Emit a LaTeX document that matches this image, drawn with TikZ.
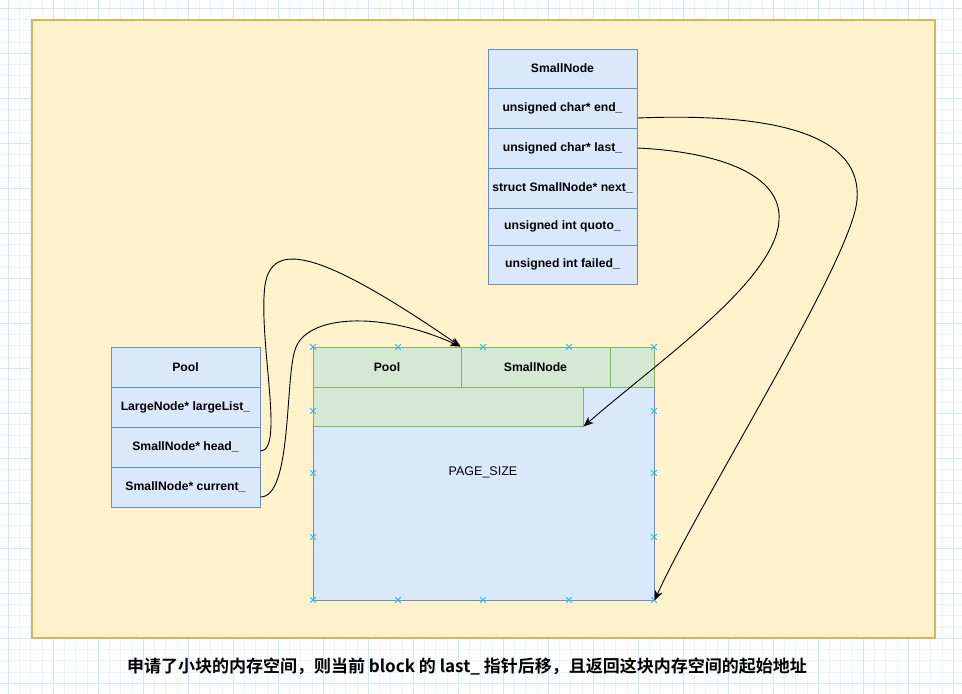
\documentclass[tikz,border=0pt]{standalone}
\usepackage{fontspec}
\setmainfont{Liberation Sans}
\newfontfamily\cjkfont[BoldFont={Noto Sans CJK SC Bold}]{Noto Sans CJK SC}
\usetikzlibrary{arrows.meta}
\definecolor{gridminor}{RGB}{236,243,252}
\definecolor{gridmajor}{RGB}{214,229,249}
\definecolor{ybg}{RGB}{255,242,204}
\definecolor{ystroke}{RGB}{214,182,86}
\definecolor{bfill}{RGB}{218,232,252}
\definecolor{bstroke}{RGB}{108,142,191}
\definecolor{gfill}{RGB}{213,232,212}
\definecolor{gstroke}{RGB}{130,179,102}
\definecolor{xcol}{RGB}{41,182,242}
\tikzset{
  cellb/.style={draw=bstroke, fill=bfill, line width=1pt, inner sep=0pt, minimum width=149pt, font=\bfseries\fontsize{12.2}{14}\selectfont},
  cellg/.style={draw=gstroke, fill=gfill, line width=1pt, inner sep=0pt, font=\bfseries\fontsize{12.2}{14}\selectfont},
  link/.style={draw=black, line width=0.9pt, -{Stealth[length=10pt,width=8pt,inset=3pt]}},
  xmarkline/.style={draw=xcol, line width=1pt},
}
\begin{document}
\begin{tikzpicture}[x=1pt,y=-1pt]
\useasboundingbox (0,0) rectangle (962,694);
\fill[white] (0,0) rectangle (962,694);
% grid
\foreach \i in {-1,...,86} {
  \draw[gridminor, line width=0.8pt] ({8.33+11.25*\i},0) -- ({8.33+11.25*\i},694);
}
\foreach \i in {-1,...,62} {
  \draw[gridminor, line width=0.8pt] (0,{8.33+11.25*\i}) -- (962,{8.33+11.25*\i});
}
\foreach \i in {0,...,21} {
  \draw[gridmajor, line width=1pt] ({8.33+45*\i},0) -- ({8.33+45*\i},694);
}
\foreach \i in {0,...,15} {
  \draw[gridmajor, line width=1pt] (0,{8.33+45*\i}) -- (962,{8.33+45*\i});
}
% container
\node[draw=ystroke, fill=ybg, line width=1.3pt, minimum width=903pt, minimum height=618pt, inner sep=0pt] (bg) at (483.5,329) {};

% SmallNode table
\node[cellb, minimum height=39pt] (sn0) at (562.5,68.5) {SmallNode};
\node[cellb, minimum height=40pt] (sn1) at (562.5,108) {unsigned char* end\_};
\node[cellb, minimum height=40pt] (sn2) at (562.5,148) {unsigned char* last\_};
\node[cellb, minimum height=40pt] (sn3) at (562.5,188) {struct SmallNode* next\_};
\node[cellb, minimum height=37pt] (sn4) at (562.5,226.5) {unsigned int quoto\_};
\node[cellb, minimum height=39pt] (sn5) at (562.5,264.5) {unsigned int failed\_};

% Pool table
\node[cellb, minimum height=40pt] (p0) at (185.5,367) {Pool};
\node[cellb, minimum height=40pt] (p1) at (185.5,407) {LargeNode* largeList\_};
\node[cellb, minimum height=40pt] (p2) at (185.5,447) {SmallNode* head\_};
\node[cellb, minimum height=40pt] (p3) at (185.5,487) {SmallNode* current\_};

% page
\node[draw=bstroke, fill=bfill, line width=1pt, minimum width=341pt, minimum height=253pt, inner sep=0pt] (page) at (483.5,473.5) {};
\node[font=\fontsize{12.5}{14}\selectfont] (pagesize) at (483,472) {PAGE\_SIZE};
\node[cellg, minimum width=148pt, minimum height=40pt] (gpool) at (387,367) {Pool};
\node[cellg, minimum width=149pt, minimum height=40pt] (gsn) at (535.5,367) {SmallNode};
\node[cellg, minimum width=44pt, minimum height=40pt] (gend) at (632,367) {};
\node[cellg, minimum width=270pt, minimum height=39pt] (grow) at (448,406.5) {};

% markers
\foreach \mx/\my in {313/347,398/347,483/347,569/347,654/347,
                313/600,398/600,483/600,569/600,654/600,
                313/411,313/473,313/537,654/411,654/473,654/537} {
  \draw[xmarkline] (\mx-2.8,\my-2.8) -- (\mx+2.8,\my+2.8) (\mx-2.8,\my+2.8) -- (\mx+2.8,\my-2.8);
}

% connectors
\draw[link] ([yshift=-4pt]p2.east) .. controls (285,451) and (258,340) .. (265,285)
   .. controls (272,240) and (320,250) .. (gsn.north west);
\draw[link] ([yshift=-10pt]p3.east) .. controls (292,497) and (285,380) .. (295,350)
   .. controls (305,315) and (380,310) .. (gsn.north west);
\draw[link] ([yshift=-10pt]sn1.east) .. controls (790,112) and (862,140) .. (857,200)
   .. controls (852,260) and (700,500) .. (page.south east);
\draw[link] (sn2.east) .. controls (720,152) and (782,175) .. (779,220)
   .. controls (776,280) and (660,360) .. (grow.south east);

% caption
\node[font=\cjkfont\bfseries\fontsize{17}{20}\selectfont] (caption) at (467,667) {申请了小块的内存空间，则当前 block 的 last\_ 指针后移，且返回这块内存空间的起始地址};
\end{tikzpicture}
\end{document}
